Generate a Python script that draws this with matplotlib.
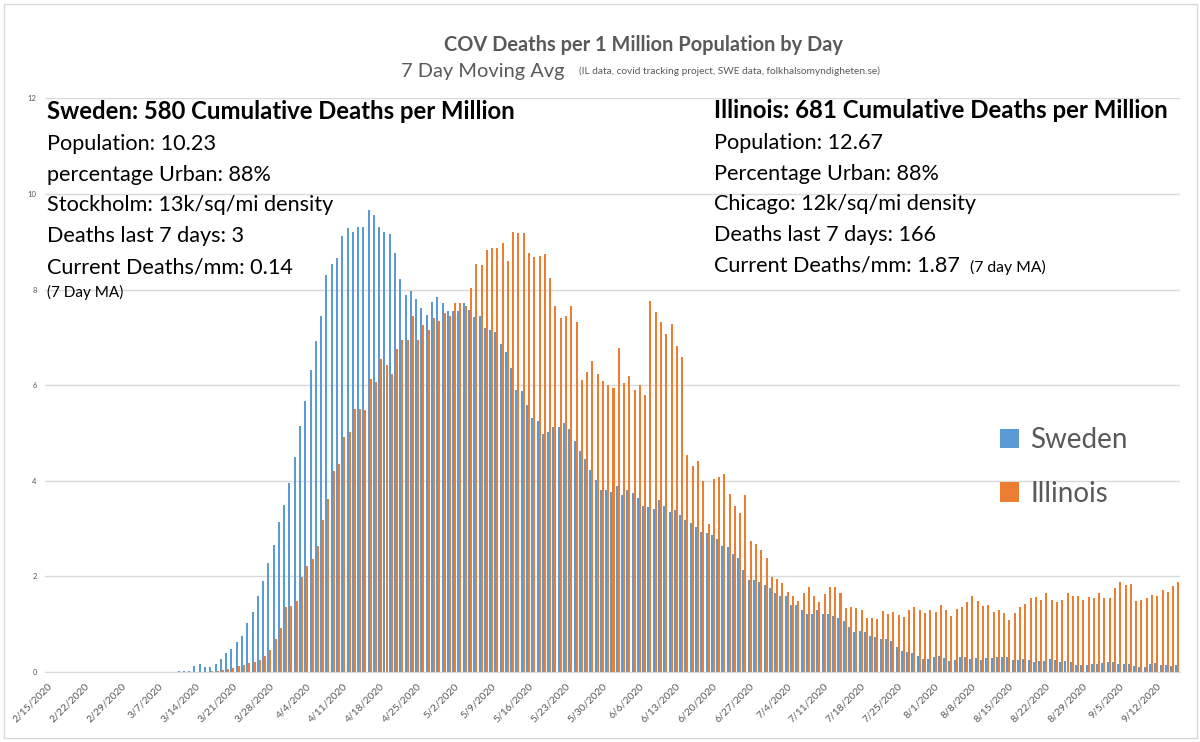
import numpy as np
import pandas as pd
import matplotlib
matplotlib.use("Agg")
import matplotlib.pyplot as plt
from matplotlib.patches import Rectangle

plt.rcParams["font.family"] = ["Lato", "DejaVu Sans"]

# daily 7-day moving average deaths per million, 2/15/2020 .. 9/16/2020
start_date = "2020-02-15"

sweden = [0.0] * 25 + [
    0.03, 0.03, 0.03, 0.12, 0.16, 0.10, 0.10, 0.17, 0.28, 0.40,
    0.49, 0.62, 0.75, 1.02, 1.25, 1.58, 1.90, 2.28, 2.66, 3.14,
    3.50, 3.95, 4.49, 5.15, 5.66, 6.31, 6.93, 7.44, 8.31, 8.53,
    8.67, 9.12, 9.28, 9.21, 9.32, 9.32, 9.67, 9.56, 9.32, 9.21,
    9.17, 8.76, 8.23, 7.88, 7.98, 7.80, 7.62, 7.46, 7.74, 7.84,
    7.72, 7.56, 7.56, 7.56, 7.72, 7.57, 7.42, 7.45, 7.19, 7.15,
    7.12, 6.86, 6.69, 6.37, 5.90, 5.87, 5.59, 5.31, 5.26, 4.98,
    5.03, 5.13, 5.12, 5.20, 5.08, 4.83, 4.63, 4.45, 4.23, 4.02,
    3.80, 3.80, 3.77, 3.89, 3.71, 3.80, 3.75, 3.64, 3.48, 3.45,
    3.40, 3.59, 3.47, 3.35, 3.38, 3.29, 3.18, 3.12, 3.04, 2.93,
    2.91, 2.87, 2.78, 2.64, 2.61, 2.46, 2.39, 2.13, 1.92, 1.93,
    1.88, 1.83, 1.76, 1.65, 1.60, 1.60, 1.41, 1.40, 1.29, 1.21,
    1.21, 1.29, 1.21, 1.21, 1.18, 1.13, 1.07, 0.95, 0.84, 0.86,
    0.84, 0.75, 0.73, 0.70, 0.70, 0.65, 0.52, 0.43, 0.41, 0.40,
    0.33, 0.27, 0.27, 0.31, 0.33, 0.29, 0.24, 0.26, 0.31, 0.31,
    0.27, 0.29, 0.26, 0.29, 0.29, 0.32, 0.31, 0.31, 0.26, 0.26,
    0.27, 0.26, 0.20, 0.24, 0.24, 0.27, 0.26, 0.21, 0.22, 0.21,
    0.15, 0.15, 0.15, 0.17, 0.17, 0.18, 0.21, 0.20, 0.17, 0.17,
    0.17, 0.13, 0.10, 0.10, 0.17, 0.19, 0.15, 0.15, 0.13, 0.14,
]

illinois = [0.0] * 31 + [
    0.02, 0.03, 0.05, 0.06, 0.08, 0.12, 0.15, 0.19, 0.21, 0.26,
    0.33, 0.47, 0.69, 0.93, 1.37, 1.39, 1.48, 1.99, 2.21, 2.36,
    2.64, 3.18, 3.62, 4.20, 4.36, 4.91, 5.03, 5.50, 5.50, 5.48,
    6.13, 6.06, 6.55, 6.42, 6.24, 6.76, 6.94, 6.94, 7.44, 6.94,
    7.25, 7.15, 7.41, 7.34, 7.51, 7.45, 7.72, 7.72, 7.65, 8.03,
    8.54, 8.51, 8.82, 8.88, 8.86, 8.97, 8.59, 9.21, 9.19, 9.19,
    8.77, 8.68, 8.71, 8.75, 8.25, 7.65, 7.40, 7.44, 7.65, 7.33,
    6.11, 6.28, 6.51, 6.23, 6.08, 6.01, 5.94, 6.77, 6.04, 6.19,
    5.91, 6.01, 5.79, 7.76, 7.54, 7.33, 7.07, 7.27, 6.82, 6.58,
    4.55, 4.30, 4.42, 3.99, 3.10, 4.03, 4.07, 4.14, 3.73, 3.47,
    3.33, 3.71, 2.74, 2.68, 2.56, 2.39, 1.99, 1.95, 1.87, 1.68,
    1.58, 1.49, 1.66, 1.77, 1.58, 1.46, 1.63, 1.77, 1.77, 1.65,
    1.33, 1.37, 1.33, 1.29, 1.12, 1.12, 1.10, 1.27, 1.22, 1.26,
    1.19, 1.15, 1.29, 1.36, 1.29, 1.24, 1.29, 1.26, 1.40, 1.29,
    1.17, 1.31, 1.36, 1.47, 1.58, 1.48, 1.38, 1.40, 1.26, 1.29,
    1.24, 1.08, 1.24, 1.36, 1.43, 1.54, 1.57, 1.51, 1.65, 1.51,
    1.47, 1.50, 1.65, 1.60, 1.58, 1.51, 1.57, 1.55, 1.65, 1.55,
    1.55, 1.76, 1.89, 1.83, 1.84, 1.48, 1.50, 1.55, 1.62, 1.60,
    1.71, 1.67, 1.79, 1.88,
]

series_names = ["Sweden", "Illinois"]
series_colors = ["#5B9BD5", "#ED7D31"]

sweden_lines = [
    "Population: 10.23",
    "percentage Urban: 88%",
    "Stockholm: 13k/sq/mi density",
    "Deaths last 7 days: 3",
    "Current Deaths/mm: 0.14",
]
illinois_lines = [
    "Population: 12.67",
    "Percentage Urban: 88%",
    "Chicago: 12k/sq/mi density",
    "Deaths last 7 days: 166",
    "Current Deaths/mm: 1.87",
]

W, H = 1200, 742
GRAY = "#595959"


def fx(px):
    return px / W


def fy(py):
    return 1 - py / H


dates = pd.date_range(start_date, periods=len(sweden), freq="D")
x = np.arange(len(dates))

fig = plt.figure(figsize=(12, 7.42), dpi=100)
# chart-area border
fig.patches.append(Rectangle((fx(4), fy(738)), fx(1193), fy(4) - fy(738),
                             transform=fig.transFigure, fill=False,
                             edgecolor="#D9D9D9", linewidth=1))

ax = fig.add_axes([fx(45), fy(672), fx(1180 - 45), fy(98.4) - fy(672)])

bw = 0.38
ax.bar(x - bw / 2, sweden, width=bw, color=series_colors[0], label=series_names[0], zorder=2)
ax.bar(x + bw / 2, illinois, width=bw, color=series_colors[1], label=series_names[1], zorder=2)

ax.set_xlim(-0.5, len(x) - 0.5)
ax.set_ylim(0, 12)
ax.set_yticks(range(0, 13, 2))
ax.yaxis.grid(True, color="#D9D9D9", linewidth=1, zorder=0)
ax.set_axisbelow(True)
for s in ["top", "right", "left"]:
    ax.spines[s].set_visible(False)
ax.spines["bottom"].set_color("#D9D9D9")
ax.tick_params(axis="y", length=0, labelsize=5.5, labelcolor=GRAY, pad=6)
ax.tick_params(axis="x", length=0, labelsize=7.5, labelcolor=GRAY, pad=7)

ticks = x[::7]
ax.set_xticks(ticks)
ax.set_xticklabels([f"{d.month}/{d.day}/{d.year}" for d in dates[::7]],
                   rotation=45, ha="right", va="top", rotation_mode="anchor")

# title
fig.text(fx(643), fy(51), "COV Deaths per 1 Million Population by Day",
         ha="center", va="baseline", fontsize=14.4, fontweight="bold", color=GRAY)
fig.text(fx(401), fy(77), "7 Day Moving Avg", ha="left", va="baseline",
         fontsize=14.4, color=GRAY)
fig.text(fx(579), fy(74), "(IL data, covid tracking project, SWE data, folkhalsomyndigheten.se)",
         ha="left", va="baseline", fontsize=7.3, color=GRAY)

# info blocks
line_y = [150, 181, 211, 242, 273]
fig.text(fx(47), fy(119), "Sweden: 580 Cumulative Deaths per Million",
         ha="left", va="baseline", fontsize=17.2, fontweight="bold", color="black")
for t, yy in zip(sweden_lines, line_y):
    fig.text(fx(47), fy(yy), t, ha="left", va="baseline", fontsize=15.6, color="black")
fig.text(fx(47), fy(297), "(7 Day MA)", ha="left", va="baseline", fontsize=11, color="black")

fig.text(fx(714), fy(118), "Illinois: 681 Cumulative Deaths per Million",
         ha="left", va="baseline", fontsize=17.3, fontweight="bold", color="black")
for t, yy in zip(illinois_lines, [v - 1 for v in line_y]):
    fig.text(fx(714), fy(yy), t, ha="left", va="baseline", fontsize=15.6, color="black")
fig.text(fx(970), fy(272), "(7 day MA)", ha="left", va="baseline", fontsize=11.3, color="black")

# legend
leg = ax.legend(loc="upper left", bbox_to_anchor=(fx(975), fy(402)), bbox_transform=fig.transFigure,
                frameon=False, fontsize=20, handlelength=0.7, handleheight=0.7,
                handletextpad=0.4, labelspacing=1.0)
for t in leg.get_texts():
    t.set_color(GRAY)

fig.savefig("out.png", dpi=100)
